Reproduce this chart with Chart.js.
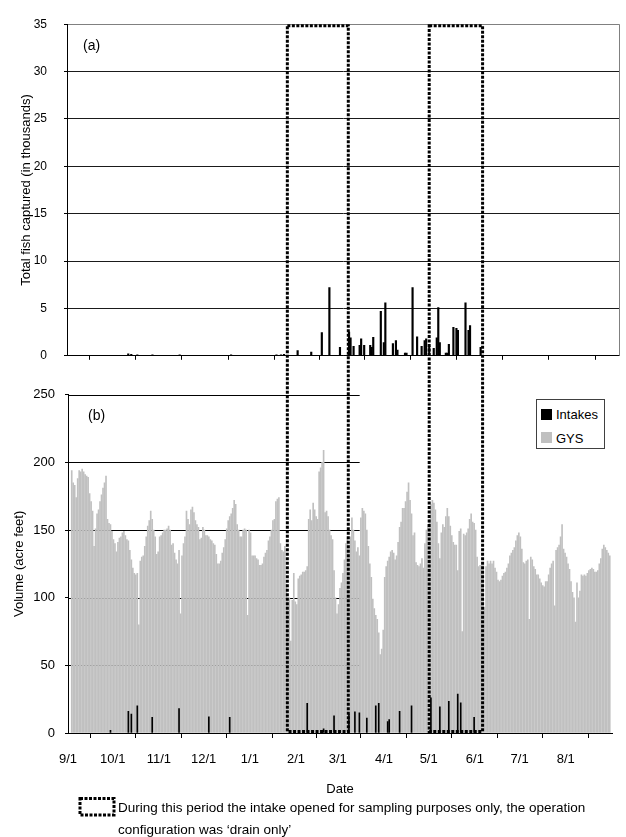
<!DOCTYPE html>
<html><head><meta charset="utf-8">
<script src="https://cdn.jsdelivr.net/npm/chart.js@4.4.1/dist/chart.umd.min.js"></script>
<style>
html,body{margin:0;padding:0;background:#fff}
body{width:626px;height:837px;overflow:hidden;position:relative;font-family:'Liberation Sans',Arial,sans-serif;color:#000}
canvas{position:absolute;left:0}
#cTop{top:0}
#cBot{top:377px}
#over{top:0;z-index:5;pointer-events:none}
.plab{position:absolute;font-size:14px;line-height:16px}
#legend{position:absolute;left:536px;top:399px;width:67px;height:48px;border:1px solid #404040;background:#fff;z-index:3;font-size:13px}
#legend .sw{position:absolute;left:4px;width:11px;height:11px}
#legend .tx{position:absolute;left:19px;line-height:15px}
#foot{position:absolute;left:118px;top:797px;font-size:13.5px;line-height:21.6px;white-space:nowrap}
</style></head>
<body>
<canvas id="cTop" width="626" height="380"></canvas>
<canvas id="cBot" width="626" height="420"></canvas>
<canvas id="over" width="626" height="837"></canvas>
<div class="plab" style="left:83px;top:37px">(a)</div>
<div class="plab" style="left:88px;top:407px">(b)</div>
<div id="legend">
  <div class="sw" style="top:9px;background:#000"></div><div class="tx" style="top:7px">Intakes</div>
  <div class="sw" style="top:32px;background:#c0c0c0"></div><div class="tx" style="top:31px">GYS</div>
</div>
<div id="foot">During this period the intake opened for sampling purposes only, the operation<br>configuration was ‘drain only’</div>
<script>
// ---- data (day index 0 = 9/1) ----
const monthStartDays = [0,30,61,91,122,153,181,212,242,273,303,334,365];
const monthLabels = ['9/1','10/1','11/1','12/1','1/1','2/1','3/1','4/1','5/1','6/1','7/1','8/1',''];

// GYS daily volume (acre feet)
const gysVolume = [
null,null,194,185,183,174,188,194,193,195,
193,191,190,189,177,171,164,138,151,162,
165,171,176,181,185,190,158,155,154,149,
143,140,134,141,144,145,148,149,146,143,
142,135,128,122,118,117,118,80,127,130,
131,138,145,153,157,164,158,150,145,132,
134,145,146,148,150,150,151,153,150,139,
140,133,128,125,135,88,131,140,145,164,
158,154,165,167,163,157,154,152,143,144,
152,150,146,146,145,143,142,140,139,132,
125,125,127,133,137,143,151,157,160,162,
166,172,169,154,150,145,145,150,151,150,
87,150,148,131,131,131,129,128,124,124,
125,130,133,135,142,145,150,157,158,171,
173,174,140,135,134,138,110,100,100,68,
98,118,97,95,114,116,117,119,119,120,
123,158,165,157,170,165,160,158,193,196,
200,209,163,164,160,150,146,143,120,100,
88,95,107,111,118,128,140,145,139,145,
159,150,142,134,137,131,159,166,164,162,
150,138,125,115,99,92,87,84,74,58,
62,76,115,123,127,130,134,135,133,128,
131,141,152,156,166,166,171,178,185,172,
162,146,148,126,124,123,125,129,122,140,
150,154,158,169,172,170,165,156,140,129,
148,154,152,160,166,160,153,146,141,139,
139,120,149,151,75,147,146,148,151,158,
162,156,155,150,130,123,124,124,124,93,
123,127,125,127,125,127,122,119,113,112,
113,116,118,119,122,125,131,133,135,137,
142,146,148,145,136,126,125,127,128,84,
130,128,123,121,117,117,114,111,109,108,
112,112,117,122,125,127,94,135,137,139,
145,154,136,133,130,125,121,112,104,100,
82,111,100,105,117,116,117,116,118,120,
121,122,121,119,119,120,125,129,136,139,
137,135,133,131,null
];

// Intakes volume (acre feet)
const intakeDays   = [28,40,42,46,56,74,94,108,160,171,178,188,192,195,200,206,208,214,215,222,230,243,249,255,261,263,272];
const intakeVolume = [2,16,14,20,11.5,18,12,11.5,22,3,12.7,14,15.6,15,11,20,22,8.4,10,16,20,26,19.4,23.5,28.8,22.3,11.5];

// Total fish captured (thousands)
const fishDays = [28,40,42,46,56,74,94,108,138,141,143,152,161,168,173,180,186,187,189,193,194,196,200,201,202,207,209,210,215,217,218,223,224,228,231,234,236,237,239,242,244,245,246,250,251,252,255,257,258,263,265,266,273];
const fishThousands = [0.05,0.2,0.15,0.1,0.1,0.1,0.05,0.1,0.1,0.1,0.15,0.55,0.4,2.45,7.2,0.9,2.5,1.9,1.0,1.1,1.8,1.1,1.1,0.9,1.96,4.7,1.4,5.6,1.3,1.6,0.6,0.3,0.3,7.2,2.0,1.0,1.6,1.8,1.0,0.8,1.9,5.1,1.4,0.3,0.3,1.2,3.0,2.9,2.7,5.6,2.7,3.2,0.9];

// 'drain only' sampling periods (start/end, in days from 9/1)
const drainOnlyPeriods = [[145.7,186.0],[239.5,274.8]];
const fishTicks = [0,5,10,15,20,25,30,35];
const volumeTicks = [0,50,100,150,200,250];
const gridlineEndDay = 195.7;

const FONT = "'Liberation Sans', Arial, sans-serif";

function xAxis(showLabels, tickLen, pad, height, title) {
  return {
    type: 'linear', min: 0, max: 365, offset: false,
    afterBuildTicks: s => { s.ticks = monthStartDays.map(v => ({value: v})); },
    afterFit: s => { s.height = height; },
    ticks: { display: showLabels, autoSkip: false, maxRotation: 0, minRotation: 0,
             color: '#000', font: {family: FONT, size: 13}, padding: pad,
             callback: (v, i) => monthLabels[i] },
    grid: { drawOnChartArea: false, drawTicks: true, tickLength: tickLen, tickColor: '#000', tickWidth: 1 },
    border: { display: true, color: '#000', width: 1 },
    title: title ? { display: true, text: title, color: '#000', font: {family: FONT, size: 13}, padding: {top: 0, bottom: 0} } : { display: false }
  };
}

const topBorder = {
  id: 'topBorder',
  afterDraw(c) {
    const {ctx, chartArea: a} = c;
    ctx.save(); ctx.strokeStyle = '#808080'; ctx.lineWidth = 1;
    ctx.beginPath(); ctx.moveTo(Math.round(a.right) + 0.5, a.top); ctx.lineTo(Math.round(a.right) + 0.5, a.bottom); ctx.stroke();
    ctx.restore();
  }
};

const partialGrid = {
  id: 'partialGrid',
  beforeDatasetsDraw(c) {
    const {ctx, chartArea: a, scales} = c;
    const xEnd = scales.x.getPixelForValue(gridlineEndDay);
    ctx.save(); ctx.strokeStyle = '#000'; ctx.lineWidth = 1;
    volumeTicks.slice(1).forEach(v => {
      const y = Math.round(scales.y.getPixelForValue(v)) + 0.5;
      ctx.beginPath(); ctx.moveTo(a.left, y); ctx.lineTo(xEnd, y); ctx.stroke();
    });
    ctx.restore();
  }
};

const topChart = new Chart(document.getElementById('cTop'), {
  type: 'bar',
  data: { datasets: [{
    label: 'Fish', data: fishDays.map((d, i) => ({x: d + 0.5, y: fishThousands[i]})),
    backgroundColor: '#000', barThickness: 1.5, grouped: false
  }]},
  options: {
    responsive: false, animation: false, devicePixelRatio: 1,
    layout: { padding: {top: 19, right: 7, left: 0, bottom: 0} },
    plugins: { legend: {display: false}, tooltip: {enabled: false} },
    scales: {
      x: xAxis(false, 4, 0, 8, null),
      y: { min: 0, max: 35,
           afterBuildTicks: s => { s.ticks = fishTicks.map(v => ({value: v})); },
           afterFit: s => { s.width = 67; },
           ticks: { color: '#000', font: {family: FONT, size: 12}, padding: 17 },
           grid: { color: c => c.tick && c.tick.value === 35 ? '#808080' : '#1a1a1a', lineWidth: 1, tickLength: 3, tickColor: '#000' },
           border: { color: '#000', width: 1 },
           title: { display: true, text: 'Total fish captured (in thousands)', color: '#000',
                    font: {family: FONT, size: 13}, padding: {top: 19, bottom: 0} } }
    }
  },
  plugins: [topBorder]
});

const botChart = new Chart(document.getElementById('cBot'), {
  type: 'bar',
  data: { datasets: [
    { label: 'Intakes', data: intakeDays.map((d, i) => ({x: d + 0.5, y: intakeVolume[i]})),
      backgroundColor: '#000', barThickness: 1, grouped: false },
    { label: 'GYS', data: gysVolume.map((v, i) => v === null ? null : ({x: i + 0.5, y: v})).filter(p => p),
      backgroundColor: '#c0c0c0', barThickness: 1, grouped: false }
  ]},
  options: {
    responsive: false, animation: false, devicePixelRatio: 1,
    layout: { padding: {top: 8, right: 7, left: 0, bottom: 0} },
    plugins: { legend: {display: false}, tooltip: {enabled: false} },
    scales: {
      x: xAxis(true, 5, 14, 64, 'Date'),
      y: { min: 0, max: 250,
           afterBuildTicks: s => { s.ticks = volumeTicks.map(v => ({value: v})); },
           afterFit: s => { s.width = 68; },
           ticks: { color: '#000', font: {family: FONT, size: 13}, padding: 10 },
           grid: { color: 'rgba(0,0,0,0)', tickLength: 3, tickColor: '#000' },
           border: { color: '#000', width: 1 },
           title: { display: true, text: 'Volume (acre feet)', color: '#000',
                    font: {family: FONT, size: 13}, padding: {top: 12, bottom: 0} } }
    }
  },
  plugins: [partialGrid]
});

function drawOverlay() {
  const o = document.getElementById('over').getContext('2d');
  o.clearRect(0, 0, 626, 837);
  const botTop = document.getElementById('cBot').offsetTop;
  const xs = topChart.scales.x;
  const yTop = topChart.chartArea.top + 1.5;
  const yBot = botTop + botChart.scales.y.getPixelForValue(0) - 1.5;
  o.strokeStyle = '#000'; o.lineWidth = 3; o.setLineDash([3, 1.5]);
  drainOnlyPeriods.forEach(([a, b]) => {
    const x1 = xs.getPixelForValue(a), x2 = xs.getPixelForValue(b);
    o.strokeRect(x1, yTop, x2 - x1, yBot - yTop);
  });
  // key symbol for the footnote
  o.strokeRect(80, 798.5, 34, 16.5);
}
drawOverlay();
</script>
</body></html>
